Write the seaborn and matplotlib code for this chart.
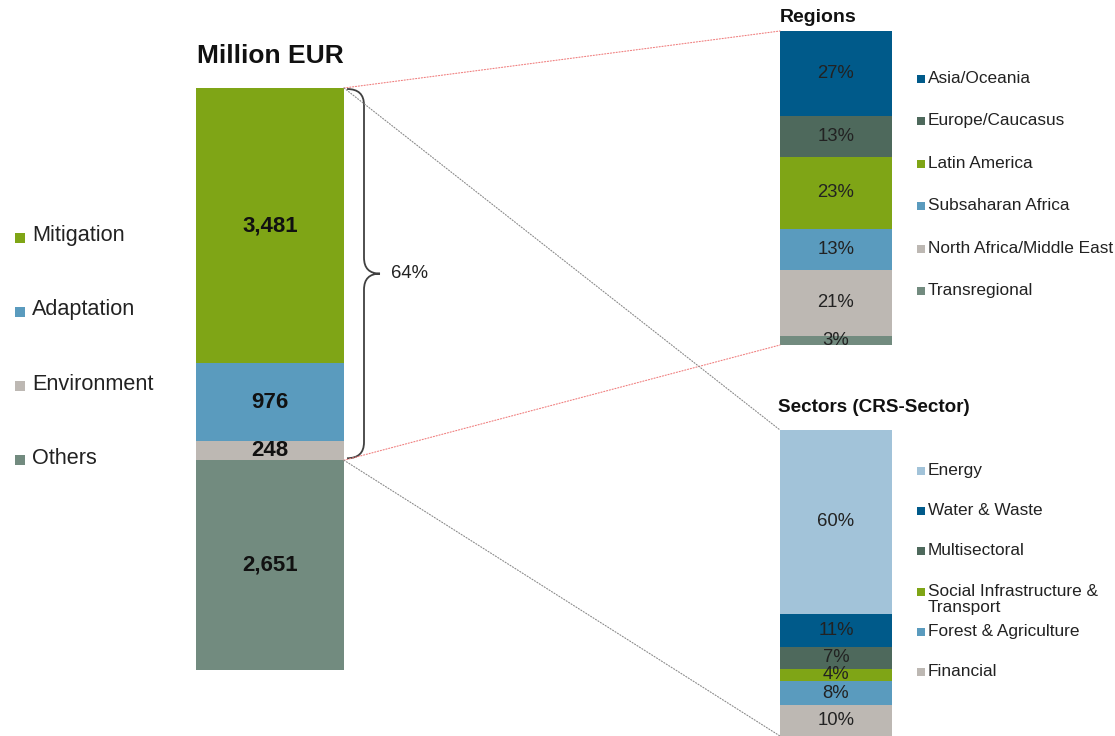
import matplotlib
matplotlib.use("Agg")
import matplotlib.pyplot as plt
import seaborn as sns
from matplotlib.patches import ConnectionPatch, PathPatch, Rectangle
from matplotlib.path import Path

# main bar, million EUR (top to bottom)
main_cats = ['Mitigation', 'Adaptation', 'Environment', 'Others']
main_vals = [3481, 976, 248, 2651]
main_cols = ['#7fa516', '#5a9bbe', '#bdb8b3', '#728b7f']

# breakdown of the first three segments
region_cats = ['Asia/Oceania', 'Europe/Caucasus', 'Latin America',
               'Subsaharan Africa', 'North Africa/Middle East', 'Transregional']
region_vals = [27, 13, 23, 13, 21, 3]
region_cols = ['#005a8a', '#4e695c', '#7fa516', '#5a9bbe', '#bdb8b3', '#728b7f']

sector_cats = ['Energy', 'Water & Waste', 'Multisectoral',
               'Social Infrastructure &\nTransport', 'Forest & Agriculture', 'Financial']
sector_vals = [60, 11, 7, 4, 8, 10]
sector_cols = ['#a2c3d9', '#005a8a', '#4e695c', '#7fa516', '#5a9bbe', '#bdb8b3']

share_label = '64%'

sns.set_theme(style="white")
plt.rcParams['font.family'] = ['Liberation Sans', 'DejaVu Sans']
TXT = '#222222'

W, H = 1115, 736
fig = plt.figure(figsize=(W / 100, H / 100), dpi=100)


def px_axes(left, top, width, height):
    return fig.add_axes([left / W, 1 - (top + height) / H, width / W, height / H])


def stack(ax, vals, cols, fmt, **txt):
    cum = 0
    for v, c in zip(vals, cols):
        sns.barplot(x=[0], y=[v], bottom=cum, color=c, saturation=1, width=1,
                    linewidth=0, orient='x', ax=ax)
        ax.text(0.5, cum + v / 2, fmt(v), ha='center', va='center',
                transform=ax.get_yaxis_transform(), **txt)
        cum += v
    ax.set_xlim(-0.5, 0.5)
    ax.set_ylim(sum(vals), 0)
    ax.axis('off')


# overlay in pixel coords for brace / legends
ov = fig.add_axes([0, 0, 1, 1], zorder=-1)
ov.set_xlim(0, W)
ov.set_ylim(H, 0)
ov.axis('off')

ax_main = px_axes(196, 88, 148, 582)
ax_reg = px_axes(780, 31, 112, 314)
ax_sec = px_axes(780, 430, 112, 306)

stack(ax_main, main_vals, main_cols, lambda v: f'{v:,}', fontsize=16,
      fontweight='bold', color='#111111')
stack(ax_reg, region_vals, region_cols, lambda v: f'{v}%', fontsize=13.3, color=TXT)
stack(ax_sec, sector_vals, sector_cols, lambda v: f'{v}%', fontsize=13.3, color=TXT)

fig.text(197 / W, 1 - 56 / H, 'Million EUR', fontsize=19, fontweight='bold',
         color='#111111', va='center', ha='left')
fig.text(780 / W, 1 - 18 / H, 'Regions', fontsize=14, fontweight='bold',
         color='#111111', va='center', ha='left')
fig.text(778 / W, 1 - 408 / H, 'Sectors (CRS-Sector)', fontsize=13.6, fontweight='bold',
         color='#111111', va='center', ha='left')

# connectors
split = sum(main_vals[:3])
for (ya, axb, yb, col) in [(0, ax_reg, 0, '#f08080'),
                           (split, ax_reg, sum(region_vals), '#f08080'),
                           (0, ax_sec, 0, '#8a8a8a'),
                           (split, ax_sec, sum(sector_vals), '#8a8a8a')]:
    con = ConnectionPatch(xyA=(1, ya), coordsA=ax_main.get_yaxis_transform(),
                          xyB=(0, yb), coordsB=axb.get_yaxis_transform(),
                          color=col, linestyle=(0, (1, 1.6)), linewidth=0.8)
    fig.add_artist(con)


def to_px(ax, y):
    return H - ax.get_yaxis_transform().transform((1, y))[1]


# brace over mitigation + adaptation + environment
yt = to_px(ax_main, 0) + 1
yb = to_px(ax_main, split) - 2
ym = (yt + yb) / 2
x0, x1, x2, r = 347, 364, 380, 16
verts = [(x0, yt), (x1, yt), (x1, yt + r), (x1, ym - r), (x1, ym), (x2, ym),
         (x1, ym), (x1, ym + r), (x1, yb - r), (x1, yb), (x0, yb)]
codes = [Path.MOVETO, Path.CURVE3, Path.CURVE3, Path.LINETO, Path.CURVE3, Path.CURVE3,
         Path.CURVE3, Path.CURVE3, Path.LINETO, Path.CURVE3, Path.CURVE3]
ov.add_patch(PathPatch(Path(verts, codes), facecolor='none', edgecolor='#404040', lw=1.3))
ov.text(391, ym, share_label, fontsize=13.3, color=TXT, va='center', ha='left')

# left legend
for i, (lab, c) in enumerate(zip(main_cats, main_cols)):
    y = 236 + 74 * i
    ov.add_patch(Rectangle((15, y - 3), 10, 10, color=c, lw=0))
    ov.text(32, y, lab, fontsize=15.6, color=TXT, va='center', ha='left')

# right legends
for cats, cols, y0, dy in [(region_cats, region_cols, 78, 42.4),
                           (sector_cats, sector_cols, 470, 40.2)]:
    for i, (lab, c) in enumerate(zip(cats, cols)):
        y = y0 + dy * i
        ov.add_patch(Rectangle((917, y - 3), 8, 8, color=c, lw=0))
        ov.text(928, y - 7, lab, fontsize=12.4, color=TXT, va='top', ha='left',
                linespacing=1.1)

fig.savefig('out.png', dpi=100)
